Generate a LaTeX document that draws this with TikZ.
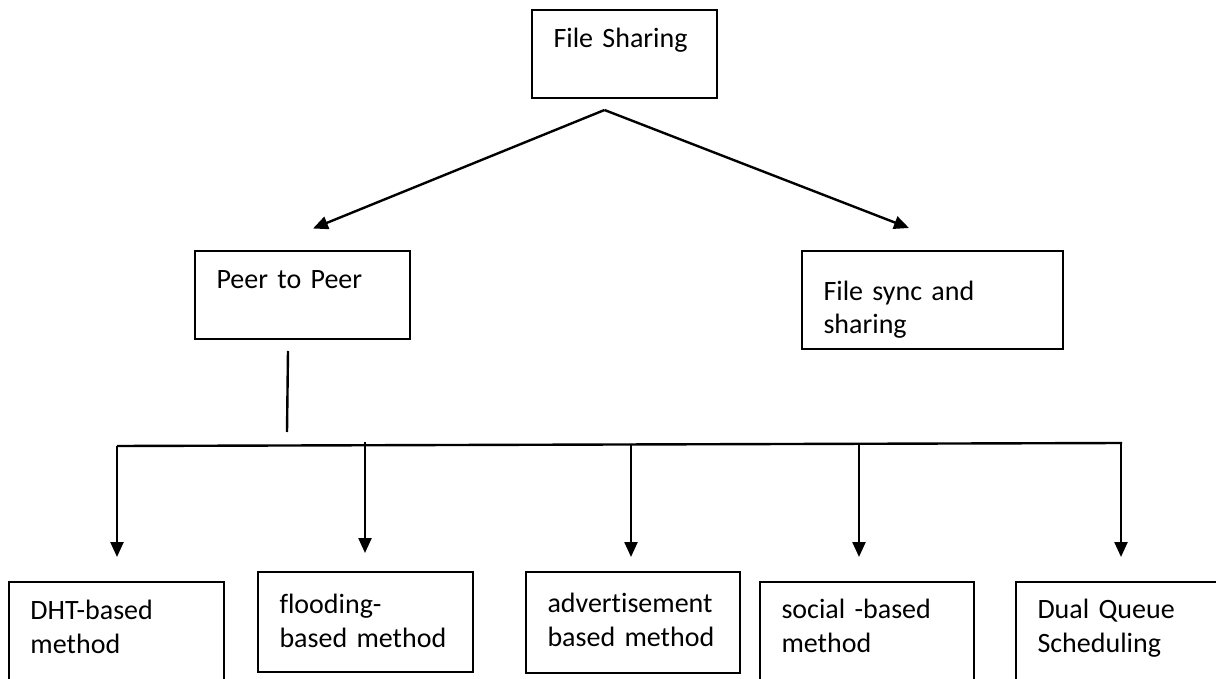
\documentclass[tikz,border=0pt]{standalone}
\usepackage{fontspec}
\setmainfont{Carlito}[Ligatures=NoCommon]
\usetikzlibrary{arrows.meta, calc}

\begin{document}
\begin{tikzpicture}[
    x=0.5pt, y=-0.5pt,
    box/.style={draw, line width=1pt, anchor=north west, align=left,
        inner xsep=10.75pt, inner ysep=0pt, font=\fontsize{14}{17}\selectfont},
    arr/.style={line width=1.2pt, -{Triangle[length=7.5pt, width=6.5pt]}},
    wire/.style={line width=1.2pt},
]
\useasboundingbox (0,0) rectangle (1216,679);
\clip (0,0) rectangle (1216,679);

% Top level
\node[box, text width=71pt, text height=19pt, text depth=25pt] (share) at (531,9) {File Sharing};

% Second level
\node[box, text width=86pt, text height=19pt, text depth=25pt] (p2p) at (194,250) {Peer to Peer};
\node[box, text width=109pt, text height=24.5pt, text depth=24.5pt] (sync) at (801,250) {File sync and\\sharing};

% Arrows from the top box
\coordinate (apex) at ([xshift=-10pt, yshift=-5.5pt]share.south);
\draw[arr] (apex) -- ([xshift=5.25pt, yshift=10.75pt]p2p.north);
\draw[arr] (apex) -- ([xshift=-11.75pt, yshift=11pt]sync.north);

% Methods
\node[box, text width=86pt, text height=18.5pt, text depth=51pt] (dht) at (8,581) {DHT-based\\method};
\node[box, text width=86pt, text height=20.5pt, text depth=29.5pt] (flood) at (257,571) {flooding-\\based method};
\node[box, text width=85.5pt, text height=20pt, text depth=30.5pt] (adv) at (525,571) {advertisement\\based method};
\node[box, text width=85.5pt, text height=18pt, text depth=51pt] (social) at (759,581) {social -based\\method};
\node[box, text width=84.5pt, text height=18pt, text depth=51pt] (dual) at (1015,581) {Dual Queue\\Scheduling};

% Trunk and bus
\coordinate (trunk) at (287,432);
\draw[wire] ([xshift=-7.25pt, yshift=-5.5pt]p2p.south) -- (trunk);
\coordinate (busL) at (117,446);
\coordinate (busR) at (1122,443);
\draw[wire] (busL) -- (busR);

% Branches down to the methods
\coordinate (b1) at (117,446);
\coordinate (b2) at (365,442);
\coordinate (b3) at (631,445);
\coordinate (b4) at (859,445);
\coordinate (b5) at (1121,444);
\draw[arr, shorten >=12pt] (b1) -- (b1 |- dht.north);
\draw[arr, shorten >=9pt] (b2) -- (b2 |- flood.north);
\draw[arr, shorten >=7pt] (b3) -- (b3 |- adv.north);
\draw[arr, shorten >=12pt] (b4) -- (b4 |- social.north);
\draw[arr, shorten >=12pt] (b5) -- (b5 |- dual.north);
\end{tikzpicture}
\end{document}
